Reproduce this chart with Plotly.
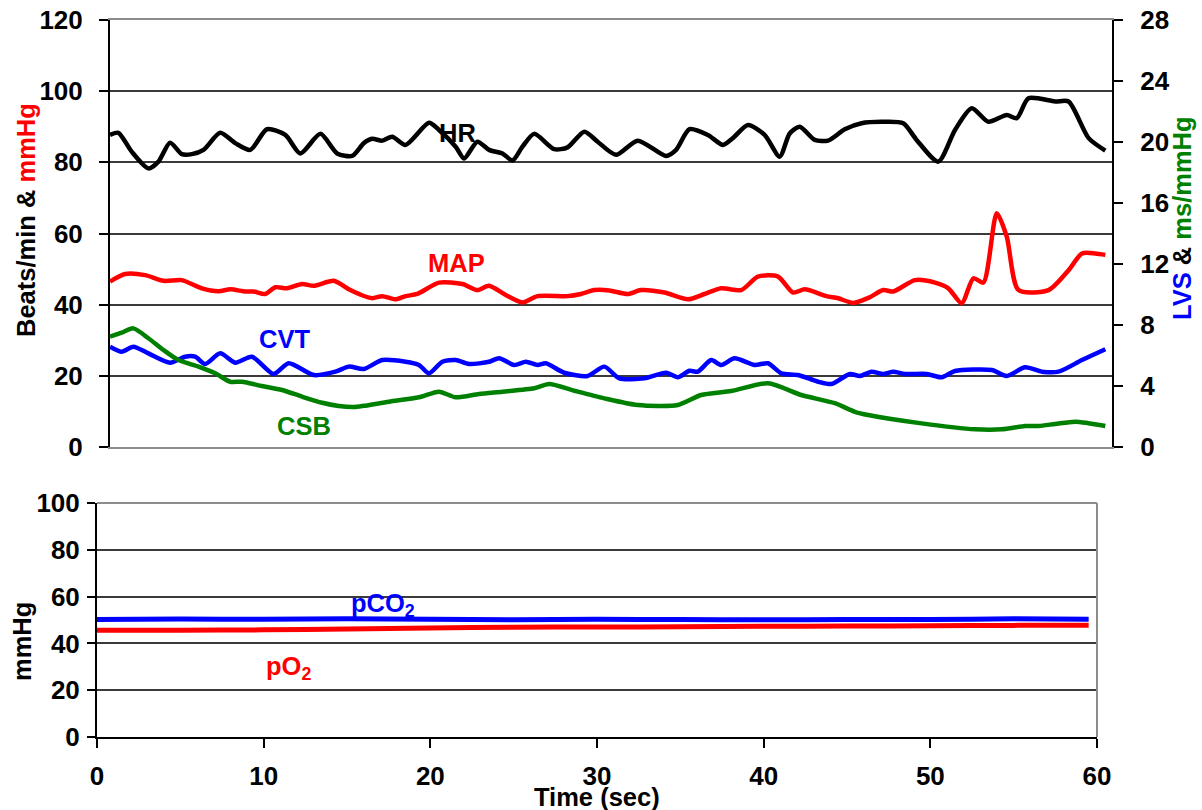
import plotly.graph_objects as go

# ---------------- data ----------------
hr_t = [0, 0.5, 1.3, 2.3, 2.9, 3.6, 4.3, 4.9, 5.6, 6.6, 7.5, 8.4, 9.4, 10.5, 11.4, 12.6, 13.6, 14.5,
        15.2, 15.7, 16.3, 16.9, 17.7, 19.1, 19.7, 20.7, 21.2, 22.0, 22.7, 23.5, 24.1, 24.7, 25.4, 26.6,
        27.4, 28.4, 29.2, 30.3, 31.6, 33.3, 33.9, 34.7, 35.8, 36.7, 37.3, 38.2, 39.2, 40.1, 40.7, 41.3,
        42.2, 43.0, 44.0, 45.0, 46.2, 47.5, 48.3, 49.6, 50.6, 51.6, 52.6, 53.7, 54.3, 55.0, 56.6, 57.4,
        58.6, 59.6]
hr_v = [87.7, 88.3, 83.0, 78.3, 80.2, 85.5, 82.3, 82.3, 83.5, 88.3, 85.4, 83.5, 89.3, 87.7, 82.5, 88.0,
        82.5, 81.8, 85.4, 86.6, 86.1, 87.2, 84.9, 91.1, 89.1, 84.4, 81.1, 85.8, 83.5, 82.5, 80.5, 84.4,
        88.0, 83.7, 84.2, 88.6, 85.8, 82.1, 86.1, 81.8, 83.5, 89.3, 87.7, 84.9, 86.8, 90.5, 87.7, 81.6,
        88.1, 90.0, 86.3, 86.1, 89.3, 91.0, 91.4, 91.0, 86.3, 80.2, 89.1, 95.2, 91.4, 93.3, 92.4, 98.0,
        97.1, 97.1, 86.8, 83.3]

map_t = [0, 0.9, 2.1, 3.2, 4.3, 5.5, 6.5, 7.2, 8.1, 8.6, 9.3, 9.9, 10.6, 11.5, 12.2, 13.4, 14.3, 15.0,
         15.7, 16.3, 17.1, 17.7, 18.4, 19.7, 21.1, 22.0, 22.7, 23.7, 24.7, 25.6, 27.4, 28.2, 29.0, 29.9,
         31.0, 31.8, 33.2, 34.6, 35.6, 36.6, 37.8, 38.8, 40.0, 40.9, 41.6, 42.9, 43.6, 44.5, 45.5, 46.3,
         46.9, 48.2, 49.4, 50.2, 51.0, 51.7, 52.3, 53.1, 53.7, 54.4, 56.2, 57.4, 58.2, 59.0, 59.6]
map_v = [46.5, 48.6, 48.3, 46.7, 46.9, 44.6, 43.8, 44.3, 43.7, 43.7, 43.0, 44.9, 44.6, 45.8, 45.3, 46.7,
         44.3, 42.8, 41.8, 42.4, 41.5, 42.4, 43.0, 46.2, 45.8, 44.1, 45.3, 42.7, 40.6, 42.4, 42.4, 43.0,
         44.1, 44.0, 43.0, 44.1, 43.4, 41.5, 43.0, 44.6, 44.1, 47.9, 47.9, 43.4, 44.3, 42.4, 41.8, 40.5,
         42.1, 44.1, 43.7, 46.9, 46.2, 44.6, 40.4, 47.4, 46.2, 65.7, 59.1, 44.1, 44.1, 49.7, 54.4, 54.4,
         54.0]

cvt_t = [0, 0.7, 1.4, 2.3, 3.6, 4.5, 5.1, 5.7, 6.6, 7.5, 8.5, 9.8, 10.7, 12.2, 13.5, 14.3, 15.2, 16.3,
         17.7, 18.5, 19.1, 19.9, 20.7, 21.5, 22.7, 23.3, 24.2, 24.9, 25.6, 26.1, 27.2, 28.6, 29.6, 30.5,
         32.0, 33.3, 34.0, 34.7, 35.2, 36.0, 36.6, 37.4, 38.6, 39.4, 40.2, 41.2, 42.4, 43.2, 44.3, 44.9,
         45.6, 46.3, 46.9, 47.6, 48.9, 49.8, 50.6, 52.8, 53.7, 54.8, 55.8, 56.8, 58.2, 59.6]
cvt_v = [6.58, 6.25, 6.58, 6.14, 5.53, 5.92, 5.92, 5.44, 6.14, 5.53, 5.92, 4.79, 5.49, 4.72, 4.94, 5.27,
         5.12, 5.70, 5.59, 5.38, 4.83, 5.59, 5.70, 5.44, 5.59, 5.82, 5.38, 5.59, 5.38, 5.49, 4.87, 4.66,
         5.27, 4.50, 4.50, 4.87, 4.57, 5.00, 4.94, 5.70, 5.38, 5.82, 5.38, 5.49, 4.83, 4.72, 4.28, 4.13,
         4.79, 4.66, 4.94, 4.79, 4.94, 4.79, 4.79, 4.57, 4.98, 5.05, 4.66, 5.23, 4.94, 4.94, 5.70, 6.41]

csb_t = [0, 0.7, 1.4, 2.3, 3.2, 4.1, 5.3, 6.3, 7.2, 7.9, 9.1, 10.3, 11.5, 12.7, 13.7, 14.6, 15.2, 16.7,
         18.5, 19.7, 20.7, 22.1, 23.5, 25.4, 26.3, 27.8, 29.6, 31.6, 34.0, 35.4, 37.2, 39.4, 41.4, 43.4,
         44.6, 45.4, 48.6, 51.8, 53.4, 54.8, 55.6, 56.6, 57.8, 59.6]
csb_v = [7.23, 7.50, 7.78, 7.13, 6.36, 5.70, 5.27, 4.83, 4.28, 4.28, 4.00, 3.74, 3.30, 2.90, 2.69, 2.62,
         2.70, 2.97, 3.26, 3.63, 3.26, 3.48, 3.63, 3.85, 4.13, 3.69, 3.19, 2.75, 2.75, 3.41, 3.67, 4.18,
         3.41, 2.87, 2.31, 2.10, 1.55, 1.16, 1.16, 1.38, 1.38, 1.51, 1.66, 1.38]

gas_t = [0, 5, 10, 15, 20, 25, 30, 35, 40, 45, 50, 55, 59.5]
pco2_v = [50.2, 50.4, 50.3, 50.5, 50.3, 50.1, 50.3, 50.2, 50.1, 50.2, 50.2, 50.5, 50.3]
po2_v = [45.6, 45.6, 45.8, 46.2, 46.6, 46.9, 47.0, 47.1, 47.3, 47.4, 47.5, 47.7, 47.8]

top_left_ticks = [0, 20, 40, 60, 80, 100, 120]
top_right_ticks = [0, 4, 8, 12, 16, 20, 24, 28]
bottom_y_ticks = [0, 20, 40, 60, 80, 100]
x_ticks = [0, 10, 20, 30, 40, 50, 60]

# ---------------- layout helpers ----------------
W, H = 1202, 810
def px(x):
    return x / W
def py(y):
    return (H - y) / H

FONT = "Liberation Sans, Arial, sans-serif"
tickfont = dict(family=FONT, size=26, color="black", weight="bold")
GRID = "#3a3a3a"
BORDER = "#8c8c8c"

fig = go.Figure()
spl = dict(shape="spline", smoothing=0.7)

fig.add_trace(go.Scatter(x=hr_t, y=hr_v, mode="lines", xaxis="x", yaxis="y",
                         line=dict(color="black", width=4.5, **spl), showlegend=False))
fig.add_trace(go.Scatter(x=map_t, y=map_v, mode="lines", xaxis="x", yaxis="y",
                         line=dict(color="#ff0000", width=4.5, **spl), showlegend=False))
fig.add_trace(go.Scatter(x=cvt_t, y=cvt_v, mode="lines", xaxis="x", yaxis="y2",
                         line=dict(color="#0000ff", width=4.5, **spl), showlegend=False))
fig.add_trace(go.Scatter(x=csb_t, y=csb_v, mode="lines", xaxis="x", yaxis="y2",
                         line=dict(color="#008000", width=4.5, **spl), showlegend=False))
fig.add_trace(go.Scatter(x=gas_t, y=pco2_v, mode="lines", xaxis="x2", yaxis="y3",
                         line=dict(color="#0000ff", width=5, **spl), showlegend=False))
fig.add_trace(go.Scatter(x=gas_t, y=po2_v, mode="lines", xaxis="x2", yaxis="y3",
                         line=dict(color="#ff0000", width=5, **spl), showlegend=False))

fig.update_layout(
    template="none",
    width=W, height=H, autosize=False,
    margin=dict(l=0, r=0, t=0, b=0, pad=0),
    paper_bgcolor="white", plot_bgcolor="white",
    xaxis=dict(domain=[px(110), px(1112)], range=[0, 60], showgrid=False, zeroline=False,
               showticklabels=False, ticks="", showline=True, linecolor=BORDER, linewidth=2,
               mirror=True, anchor="y", automargin=False),
    yaxis=dict(domain=[py(447), py(20)], range=[0, 120], tickvals=top_left_ticks,
               showgrid=True, gridcolor=GRID, gridwidth=1.5, zeroline=False,
               showline=True, linecolor="black", linewidth=2, ticks="outside", ticklen=9,
               tickwidth=1.5, tickcolor="black", tickfont=tickfont, ticklabelstandoff=11,
               anchor="x", automargin=False),
    yaxis2=dict(range=[0, 28], tickvals=top_right_ticks, overlaying="y", side="right",
                anchor="x", showgrid=False, zeroline=False, showline=True, linecolor="black",
                linewidth=2, ticks="outside", ticklen=9, tickwidth=1.5, tickcolor="black",
                tickfont=tickfont, ticklabelstandoff=12, automargin=False),
    xaxis2=dict(domain=[px(97), px(1097)], range=[0, 60], tickvals=x_ticks, showgrid=False,
                zeroline=False, showline=True, linecolor="black", linewidth=2, ticks="outside",
                ticklen=9, tickwidth=1.5, tickcolor="black", tickfont=tickfont,
                ticklabelstandoff=6, anchor="y3", automargin=False),
    yaxis3=dict(domain=[py(737), py(503)], range=[0, 100], tickvals=bottom_y_ticks,
                showgrid=True, gridcolor=GRID, gridwidth=1.5, zeroline=False,
                showline=True, linecolor="black", linewidth=2, ticks="outside", ticklen=8,
                tickwidth=1.5, tickcolor="black", tickfont=tickfont, ticklabelstandoff=2,
                anchor="x2", automargin=False),
)

# gray top/right border of lower panel
fig.add_shape(type="line", xref="x2 domain", yref="y3 domain", x0=0, x1=1, y0=1, y1=1,
              line=dict(color=BORDER, width=2))
fig.add_shape(type="line", xref="x2 domain", yref="y3 domain", x0=1, x1=1, y0=0, y1=1,
              line=dict(color=BORDER, width=2))

afont = dict(family=FONT, size=25.5, weight="bold")
def lab(text, x, y, color, angle=0):
    fig.add_annotation(text=text, x=px(x), y=py(y), xref="paper", yref="paper",
                       showarrow=False, xanchor="center", yanchor="middle",
                       textangle=angle, font=dict(color=color, **afont))

lab("HR", 457, 133, "black")
lab("MAP", 456, 263, "#ff0000")
lab("CVT", 284, 339, "#0000ff")
lab("CSB", 304, 426, "#008000")
lab("pCO<sub>2</sub>", 383, 605, "#0000ff")
lab("pO<sub>2</sub>", 288, 668, "#ff0000")

lab('Beats/min &amp; <span style="color:#ff0000">mmHg</span>', 26, 220, "black", -90)
lab('<span style="color:#0000ff">LVS</span> &amp; <span style="color:#008000">ms/mmHg</span>',
    1182, 218, "black", -90)
lab("mmHg", 22, 642, "black", -90)
lab("Time (sec)", 597, 797, "black")

fig.write_html("out.html",
               config={"displayModeBar": False},
               post_script="document.body.style.margin='0px';"
                           "document.body.style.padding='0px';"
                           "document.body.style.overflow='hidden';")
